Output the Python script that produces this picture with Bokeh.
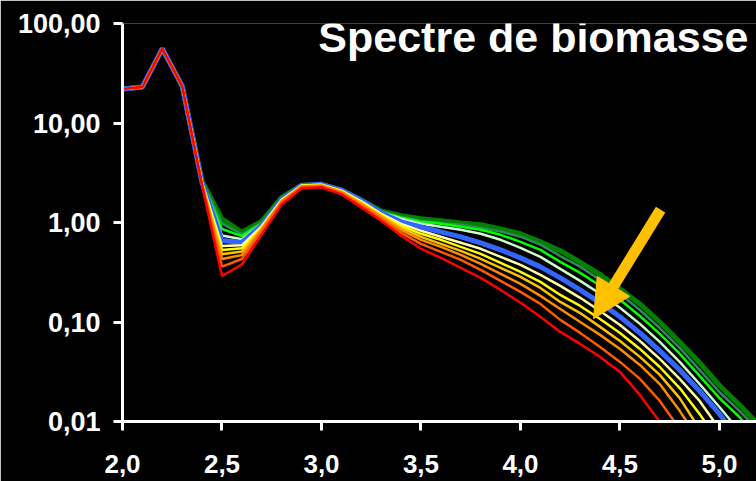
from bokeh.plotting import figure
from bokeh.models import (Range1d, FixedTicker, CustomJSTickFormatter, Label,
                          Arrow, NormalHead)
from bokeh.embed import file_html
from bokeh.resources import INLINE

# log10 of body mass (x grid, step 0.1)
X = [2.0, 2.1, 2.2, 2.3, 2.4, 2.5, 2.6, 2.7, 2.8, 2.9, 3.0, 3.1, 3.2, 3.3,
     3.4, 3.5, 3.6, 3.7, 3.8, 3.9, 4.0, 4.1, 4.2, 4.3, 4.4, 4.5, 4.6, 4.7,
     4.8, 4.9, 5.0, 5.1, 5.2, 5.3]

# shared start of every spectrum (2.0 .. 2.3)
HEAD = [22.0, 23.0, 56.0, 23.5]

# biomass spectra, from the dark green one (top) to the red one (bottom)
dark_green = HEAD + [2.6, 1.08, 0.80, 1.03, 1.79, 2.37, 2.42, 2.12, 1.68,
                     1.31, 1.17, 1.09, 1.04, 0.99, 0.95, 0.86, 0.77, 0.64, 0.52,
                     0.40, 0.30, 0.215, 0.152, 0.100, 0.063, 0.039, 0.023,
                     0.0147, 0.0091, 0.0050]
teal = HEAD + [2.6, 0.98, 0.76, 1.00, 1.77, 2.37, 2.42, 2.12, 1.68,
               1.30, 1.14, 1.04, 0.99, 0.95, 0.88, 0.81, 0.72, 0.60, 0.46,
               0.36, 0.265, 0.192, 0.132, 0.087, 0.055, 0.033, 0.0198,
               0.0128, 0.0080]
green = HEAD + [2.55, 0.86, 0.73, 0.98, 1.75, 2.37, 2.42, 2.11, 1.67,
                1.28, 1.115, 1.016, 0.97, 0.905, 0.844, 0.752, 0.639, 0.531,
                0.402, 0.312, 0.231, 0.167, 0.115, 0.076, 0.048, 0.0287,
                0.0172, 0.0111, 0.0064]
mint = HEAD + [2.55, 0.74, 0.68, 0.96, 1.73, 2.36, 2.42, 2.11, 1.67,
               1.27, 1.09, 0.97, 0.905, 0.844, 0.770, 0.670, 0.557, 0.452,
               0.342, 0.259, 0.192, 0.139, 0.0957, 0.0631, 0.0397, 0.0238,
               0.0140, 0.0080]
blue = HEAD + [2.5, 0.66, 0.63, 0.94, 1.71, 2.36, 2.42, 2.11, 1.67,
               1.25, 1.016, 0.905, 0.806, 0.718, 0.625, 0.531, 0.441, 0.358,
               0.278, 0.210, 0.156, 0.113, 0.0777, 0.0512, 0.0330, 0.0203,
               0.0119, 0.0064]
cream = HEAD + [2.5, 0.58, 0.59, 0.92, 1.69, 2.35, 2.40, 2.09, 1.63,
                1.22, 0.97, 0.825, 0.718, 0.625, 0.544, 0.452, 0.375, 0.298,
                0.231, 0.175, 0.129, 0.0935, 0.0645, 0.0426, 0.0268, 0.0161,
                0.0084]
yellow = HEAD + [2.45, 0.53, 0.55, 0.90, 1.67, 2.34, 2.39, 2.07, 1.60,
                 1.195, 0.926, 0.770, 0.670, 0.569, 0.484, 0.393, 0.319,
                 0.253, 0.187, 0.145, 0.107, 0.0777, 0.0536, 0.0353, 0.0217,
                 0.0119, 0.0061]
gold = HEAD + [2.45, 0.48, 0.51, 0.87, 1.65, 2.32, 2.37, 2.05, 1.57,
               1.168, 0.884, 0.718, 0.610, 0.519, 0.431, 0.350, 0.284, 0.220,
               0.159, 0.123, 0.0893, 0.0645, 0.0446, 0.0294, 0.0172, 0.0084]
orange = HEAD + [2.4, 0.43, 0.47, 0.86, 1.63, 2.30, 2.34, 2.02, 1.53,
                 1.141, 0.844, 0.670, 0.569, 0.473, 0.384, 0.305, 0.242,
                 0.183, 0.135, 0.100, 0.0742, 0.0536, 0.0370, 0.0238, 0.0128,
                 0.0064]
orange_red = HEAD + [2.4, 0.36, 0.43, 0.82, 1.60, 2.27, 2.31, 1.98, 1.48,
                     1.089, 0.788, 0.610, 0.507, 0.421, 0.334, 0.259, 0.201,
                     0.152, 0.105, 0.0777, 0.0562, 0.0397, 0.0268, 0.0161,
                     0.0084, 0.0040]
red = HEAD + [2.35, 0.29, 0.38, 0.76, 1.52, 2.21, 2.26, 1.92, 1.42,
              1.040, 0.735, 0.544, 0.441, 0.350, 0.278, 0.210, 0.156, 0.113,
              0.0795, 0.0602, 0.0446, 0.0315, 0.0185, 0.0099, 0.0048]

SERIES = [
    (dark_green, "#008000", 5),
    (teal, "#2E8B57", 2.5),
    (green, "#00FF00", 2.5),
    (mint, "#CCFFCC", 2.5),
    (blue, "#3366FF", 5),
    (cream, "#FFFFAA", 2.5),
    (yellow, "#FFFF00", 2.5),
    (gold, "#FFC000", 2.5),
    (orange, "#FF8C00", 2.5),
    (orange_red, "#FF5A00", 2.5),
    (red, "#FF0000", 2.5),
]

X_TICKS = [2.0, 2.5, 3.0, 3.5, 4.0, 4.5, 5.0]
Y_TICKS = [0.01, 0.1, 1, 10, 100]
TITLE = "Spectre de biomasse"

# arrow pointing at the shift of the spectra
ARROW_FROM = (4.704, 1.35)
ARROW_TO = (4.367, 0.108)
ARROW_COLOR = "#FFC000"

FONT = "Liberation Sans"

p = figure(width=756, height=481, output_backend="svg", toolbar_location=None,
           x_range=Range1d(2.0, 5.186), y_range=Range1d(0.01, 100),
           y_axis_type="log", min_border_left=122, min_border_right=0,
           min_border_top=23, min_border_bottom=60)
p.background_fill_color = "black"
p.border_fill_color = "black"
p.outline_line_color = None
p.xgrid.visible = False
p.ygrid.visible = False

for vals, color, width in SERIES:
    p.line(X[:len(vals)], vals, line_color=color, line_width=width)

for ax in (p.xaxis[0], p.yaxis[0]):
    ax.axis_line_color = "white"
    ax.axis_line_width = 3
    ax.major_tick_line_color = "white"
    ax.major_tick_line_width = 3
    ax.major_tick_out = 9
    ax.major_tick_in = 0
    ax.minor_tick_out = 0
    ax.minor_tick_in = 0
    ax.major_label_text_color = "white"
    ax.major_label_text_font = FONT
    ax.major_label_text_font_style = "bold"
    ax.major_label_text_font_size = "26px"

p.yaxis.major_label_text_font_size = "27px"
p.xaxis.ticker = FixedTicker(ticks=X_TICKS, minor_ticks=[])
p.yaxis.ticker = FixedTicker(ticks=Y_TICKS, minor_ticks=[])
p.xaxis.formatter = CustomJSTickFormatter(code="return tick.toFixed(1).replace('.', ',');")
p.yaxis.formatter = CustomJSTickFormatter(code="return tick.toFixed(2).replace('.', ',');")
p.xaxis.major_label_standoff = 24
p.yaxis.major_label_standoff = 13

p.add_layout(Arrow(end=NormalHead(size=38, fill_color=ARROW_COLOR,
                                  line_color=ARROW_COLOR),
                   x_start=ARROW_FROM[0], y_start=ARROW_FROM[1],
                   x_end=ARROW_TO[0], y_end=ARROW_TO[1],
                   line_color=ARROW_COLOR, line_width=11))

p.add_layout(Label(x=626, y=385, x_units="screen", y_units="screen",
                   text=TITLE, text_align="right", text_baseline="alphabetic",
                   text_font=FONT, text_font_style="bold",
                   text_font_size="43px", text_color="white"))

open("out.html", "w").write(file_html(p, INLINE))
